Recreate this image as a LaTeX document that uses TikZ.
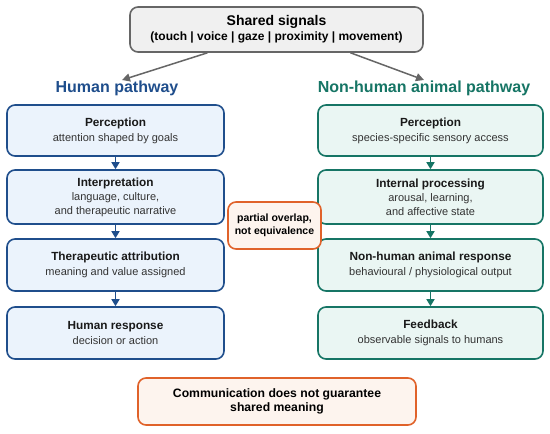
\documentclass[tikz,border=0pt]{standalone}
\usepackage{fontspec}
\setmainfont{Liberation Sans}
\usetikzlibrary{arrows.meta,calc}
\definecolor{hblue}{HTML}{1F4E8C}
\definecolor{hfill}{HTML}{EBF3FC}
\definecolor{tgreen}{HTML}{167565}
\definecolor{tfill}{HTML}{EAF6F3}
\definecolor{orng}{HTML}{E0622A}
\definecolor{ofill}{HTML}{FDF4EE}
\definecolor{gbord}{HTML}{666666}
\definecolor{gfill}{HTML}{F0F0F0}
\definecolor{subc}{HTML}{333333}
\tikzset{
  box/.style={draw, rounded corners=8pt, line width=1.6pt, align=center, inner sep=0pt},
  hbox/.style={box, draw=hblue, fill=hfill, minimum width=217pt, font=\fontsize{11}{14}\selectfont},
  tbox/.style={box, draw=tgreen, fill=tfill, minimum width=225pt, font=\fontsize{11}{14}\selectfont},
  obox/.style={box, draw=orng, fill=ofill},
  harr/.style={draw=hblue, line width=1.5pt, -{Triangle[length=7pt,width=8pt]}},
  tarr/.style={draw=tgreen, line width=1.5pt, -{Triangle[length=7pt,width=8pt]}},
  garr/.style={draw=gbord, line width=1.5pt, -{Triangle[length=8pt,width=8pt]}},
}
\newcommand{\ttl}[1]{{\fontsize{11.8}{15}\selectfont\bfseries\color{black!90}#1}}
\newcommand{\sbt}[1]{{\fontsize{11}{14}\selectfont\color{subc}#1}}
\begin{document}
\begin{tikzpicture}[x=1pt,y=-1pt]
\useasboundingbox (0,0) rectangle (550,434);
\fill[white] (0,0) rectangle (550,434);
% top
\node[box, draw=gbord, fill=gfill, minimum width=293pt, minimum height=45pt] (top) at (276.5,29.5)
  {{\fontsize{14}{16}\selectfont\bfseries Shared signals}\\[3pt]{\fontsize{12}{13}\selectfont\bfseries (touch | voice | gaze | proximity | movement)}};
\node[font=\fontsize{16}{18}\selectfont\bfseries, text=hblue] (ht) at (117,88) {Human pathway};
\node[font=\fontsize{16}{18}\selectfont\bfseries, text=tgreen] (tt) at (424,88) {Non-human animal pathway};
\coordinate (hl) at (122,80);
\coordinate (tl) at (424,80);
\draw[garr] ([xshift=-69pt]top.south) -- (hl);
\draw[garr] ([xshift=74pt]top.south) -- (tl);
% human column
\node[hbox, minimum height=51pt] (h1) at (115.5,130.5) {\ttl{Perception}\\[1pt]\sbt{attention shaped by goals}};
\node[hbox, minimum height=54pt] (h2) at (115.5,197) {\ttl{Interpretation}\\[0pt]\sbt{language, culture,}\\\sbt{and therapeutic narrative}};
\node[hbox, minimum height=52pt] (h3) at (115.5,265) {\ttl{Therapeutic attribution}\\[1pt]\sbt{meaning and value assigned}};
\node[hbox, minimum height=52pt] (h4) at (115.5,333) {\ttl{Human response}\\[1pt]\sbt{decision or action}};
\draw[harr] (h1) -- (h2);
\draw[harr] (h2) -- (h3);
\draw[harr] (h3) -- (h4);
% animal column
\node[tbox, minimum height=51pt] (t1) at (430.5,130.5) {\ttl{Perception}\\[1pt]\sbt{species-specific sensory access}};
\node[tbox, minimum height=54pt] (t2) at (430.5,197) {\ttl{Internal processing}\\[0pt]\sbt{arousal, learning,}\\\sbt{and affective state}};
\node[tbox, minimum height=52pt] (t3) at (430.5,265) {\ttl{Non-human animal response}\\[1pt]\sbt{behavioural / physiological output}};
\node[tbox, minimum height=52pt] (t4) at (430.5,333) {\ttl{Feedback}\\[1pt]\sbt{observable signals to humans}};
\draw[tarr] (t1) -- (t2);
\draw[tarr] (t2) -- (t3);
\draw[tarr] (t3) -- (t4);
% middle
\node[obox, minimum width=93pt, minimum height=47pt, font=\fontsize{10.5}{13}\selectfont\bfseries] (mid) at (274.5,225.5) {partial overlap,\\not equivalence};
% bottom
\node[obox, minimum width=278pt, minimum height=47pt, font=\fontsize{12.2}{14.5}\selectfont\bfseries] (bot) at (277,401.5) {Communication does not guarantee\\shared meaning};
\end{tikzpicture}
\end{document}
